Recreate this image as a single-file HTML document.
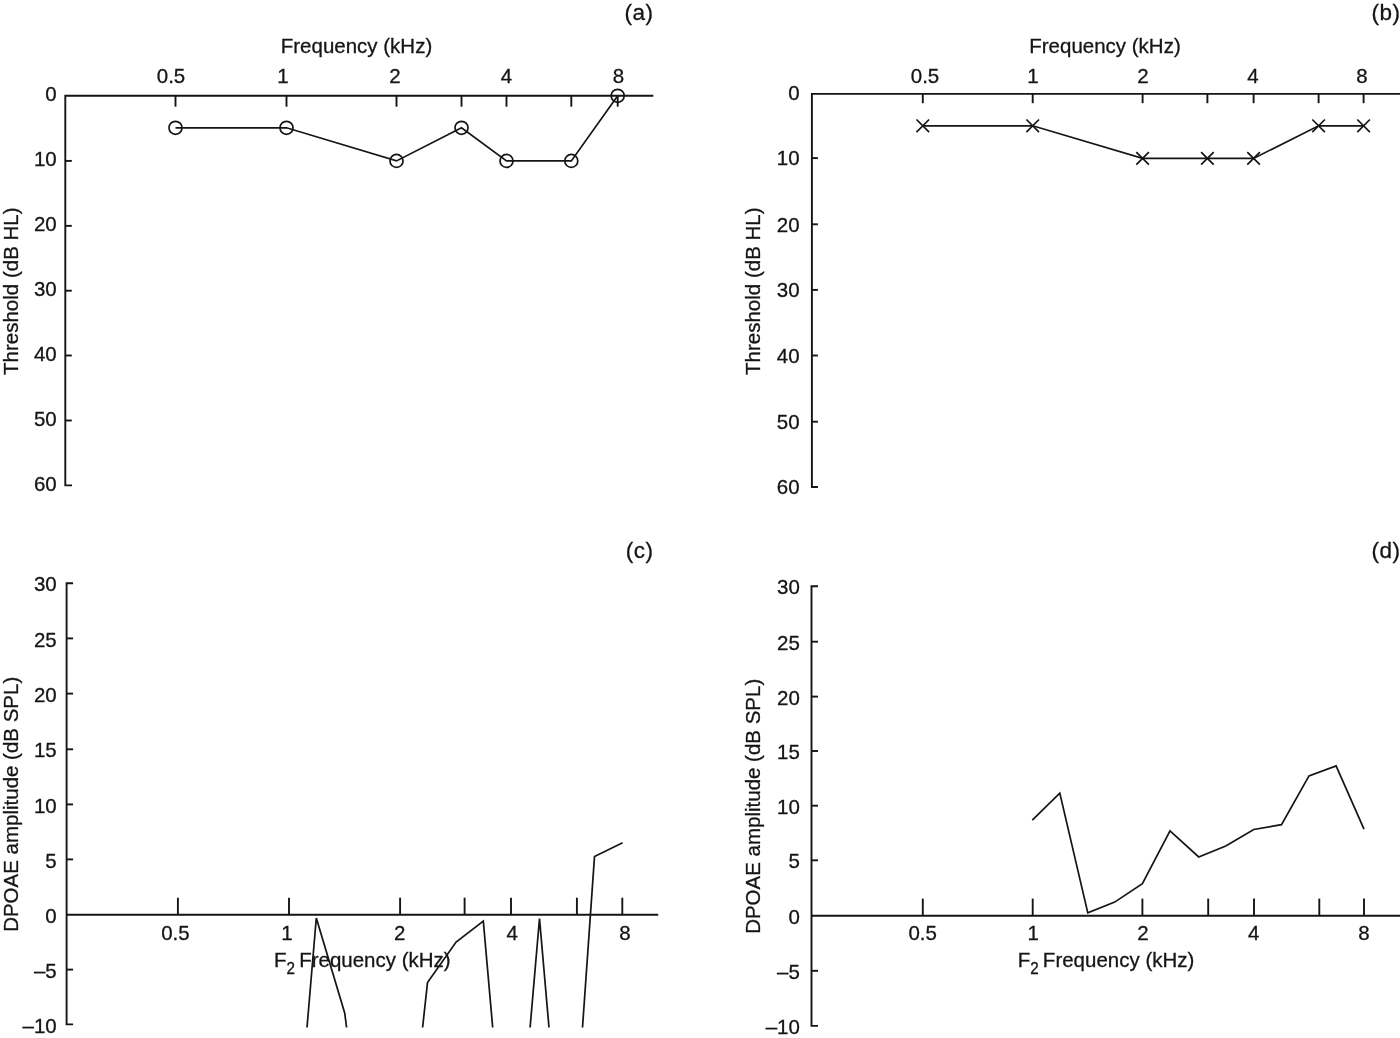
<!DOCTYPE html>
<html><head><meta charset="utf-8"><title>Figure</title>
<style>
html,body{margin:0;padding:0;background:#fff;}
svg{display:block;}
text{font-family:"Liberation Sans",sans-serif;fill:#151515;stroke:#151515;stroke-width:0.3px;}
.l{stroke:#151515;stroke-width:1.9;fill:none;stroke-linecap:butt;stroke-linejoin:miter;}
.e{stroke:#151515;stroke-width:1.7;fill:none;}
.d{stroke:#151515;stroke-width:1.72;fill:none;stroke-linecap:butt;stroke-linejoin:miter;}
</style></head><body>
<svg width="1400" height="1038" viewBox="0 0 1400 1038">
<rect width="1400" height="1038" fill="#fff"/>
<path class="l" d="M72.00 485.40 H65.30 V95.80 H653.30"/>
<path class="l" d="M175.50 95.80 v10.9"/>
<path class="l" d="M286.50 95.80 v10.9"/>
<path class="l" d="M396.50 95.80 v10.9"/>
<path class="l" d="M461.50 95.80 v10.9"/>
<path class="l" d="M506.50 95.80 v10.9"/>
<path class="l" d="M571.30 95.80 v10.9"/>
<path class="l" d="M617.70 95.80 v10.9"/>
<path class="l" d="M65.30 160.90 h6.5"/>
<path class="l" d="M65.30 225.85 h6.5"/>
<path class="l" d="M65.30 290.70 h6.5"/>
<path class="l" d="M65.30 355.50 h6.5"/>
<path class="l" d="M65.30 420.50 h6.5"/>
<text transform="translate(171.00 82.90) scale(1 1.025)" font-size="20.5" text-anchor="middle">0.5</text>
<text transform="translate(283.00 82.90) scale(1 1.025)" font-size="20.5" text-anchor="middle">1</text>
<text transform="translate(395.00 82.90) scale(1 1.025)" font-size="20.5" text-anchor="middle">2</text>
<text transform="translate(506.50 82.90) scale(1 1.025)" font-size="20.5" text-anchor="middle">4</text>
<text transform="translate(618.50 82.90) scale(1 1.025)" font-size="20.5" text-anchor="middle">8</text>
<text transform="translate(56.70 101.30) scale(1 1.025)" font-size="20.5" text-anchor="end">0</text>
<text transform="translate(56.70 166.40) scale(1 1.025)" font-size="20.5" text-anchor="end">10</text>
<text transform="translate(56.70 231.35) scale(1 1.025)" font-size="20.5" text-anchor="end">20</text>
<text transform="translate(56.70 296.20) scale(1 1.025)" font-size="20.5" text-anchor="end">30</text>
<text transform="translate(56.70 361.00) scale(1 1.025)" font-size="20.5" text-anchor="end">40</text>
<text transform="translate(56.70 426.00) scale(1 1.025)" font-size="20.5" text-anchor="end">50</text>
<text transform="translate(56.70 490.90) scale(1 1.025)" font-size="20.5" text-anchor="end">60</text>
<text transform="translate(356.50 52.60) scale(1 1.025)" font-size="20.5" text-anchor="middle">Frequency (kHz)</text>
<text transform="translate(653.40 19.90) scale(1 1)" font-size="22.5" text-anchor="end" letter-spacing="0.5">(a)</text>
<text transform="translate(18.00 291.20) rotate(-90) scale(1 1.025)" font-size="20.5" text-anchor="middle">Threshold (dB HL)</text>
<path class="e" d="M175.50 127.80 L286.50 127.80 L396.50 160.90 L461.50 127.80 L506.50 160.90 L571.30 160.90 L617.70 95.80"/>
<circle class="e" cx="175.50" cy="127.80" r="6.5"/>
<circle class="e" cx="286.50" cy="127.80" r="6.5"/>
<circle class="e" cx="396.50" cy="160.90" r="6.5"/>
<circle class="e" cx="461.50" cy="127.80" r="6.5"/>
<circle class="e" cx="506.50" cy="160.90" r="6.5"/>
<circle class="e" cx="571.30" cy="160.90" r="6.5"/>
<circle class="e" cx="617.70" cy="95.80" r="6.5"/>
<path class="l" d="M817.90 487.00 H811.90 V93.90 H1400"/>
<path class="l" d="M922.80 93.90 v9.3"/>
<path class="l" d="M1032.70 93.90 v9.3"/>
<path class="l" d="M1142.60 93.90 v9.3"/>
<path class="l" d="M1207.40 93.90 v9.3"/>
<path class="l" d="M1253.60 93.90 v9.3"/>
<path class="l" d="M1318.60 93.90 v9.3"/>
<path class="l" d="M1363.60 93.90 v9.3"/>
<path class="l" d="M811.90 158.10 h6"/>
<path class="l" d="M811.90 224.30 h6"/>
<path class="l" d="M811.90 289.90 h6"/>
<path class="l" d="M811.90 355.50 h6"/>
<path class="l" d="M811.90 421.70 h6"/>
<text transform="translate(925.00 82.90) scale(1 1.025)" font-size="20.5" text-anchor="middle">0.5</text>
<text transform="translate(1033.00 82.90) scale(1 1.025)" font-size="20.5" text-anchor="middle">1</text>
<text transform="translate(1143.00 82.90) scale(1 1.025)" font-size="20.5" text-anchor="middle">2</text>
<text transform="translate(1253.00 82.90) scale(1 1.025)" font-size="20.5" text-anchor="middle">4</text>
<text transform="translate(1362.00 82.90) scale(1 1.025)" font-size="20.5" text-anchor="middle">8</text>
<text transform="translate(799.60 100.40) scale(1 1.025)" font-size="20.5" text-anchor="end">0</text>
<text transform="translate(799.60 165.30) scale(1 1.025)" font-size="20.5" text-anchor="end">10</text>
<text transform="translate(799.60 231.50) scale(1 1.025)" font-size="20.5" text-anchor="end">20</text>
<text transform="translate(799.60 297.10) scale(1 1.025)" font-size="20.5" text-anchor="end">30</text>
<text transform="translate(799.60 362.70) scale(1 1.025)" font-size="20.5" text-anchor="end">40</text>
<text transform="translate(799.60 428.90) scale(1 1.025)" font-size="20.5" text-anchor="end">50</text>
<text transform="translate(799.60 494.20) scale(1 1.025)" font-size="20.5" text-anchor="end">60</text>
<text transform="translate(1105.00 52.60) scale(1 1.025)" font-size="20.5" text-anchor="middle">Frequency (kHz)</text>
<text transform="translate(1400.40 20.00) scale(1 1)" font-size="22.5" text-anchor="end" letter-spacing="0.5">(b)</text>
<text transform="translate(760.30 291.20) rotate(-90) scale(1 1.025)" font-size="20.5" text-anchor="middle">Threshold (dB HL)</text>
<path class="e" d="M922.80 125.80 L1032.70 125.80 L1142.60 158.40 L1207.40 158.40 L1253.60 158.40 L1318.60 125.80 L1363.60 125.80"/>
<path class="e" d="M916.50 119.50 l12.6 12.6 M916.50 132.10 l12.6 -12.6"/>
<path class="e" d="M1026.40 119.50 l12.6 12.6 M1026.40 132.10 l12.6 -12.6"/>
<path class="e" d="M1136.30 152.10 l12.6 12.6 M1136.30 164.70 l12.6 -12.6"/>
<path class="e" d="M1201.10 152.10 l12.6 12.6 M1201.10 164.70 l12.6 -12.6"/>
<path class="e" d="M1247.30 152.10 l12.6 12.6 M1247.30 164.70 l12.6 -12.6"/>
<path class="e" d="M1312.30 119.50 l12.6 12.6 M1312.30 132.10 l12.6 -12.6"/>
<path class="e" d="M1357.30 119.50 l12.6 12.6 M1357.30 132.10 l12.6 -12.6"/>
<path class="l" d="M73.10 583.30 H66.60 V1024.40 H73.10"/>
<path class="l" d="M66.60 914.70 H658.2"/>
<path class="l" d="M177.90 914.70 v-17"/>
<path class="l" d="M289.00 914.70 v-17"/>
<path class="l" d="M400.10 914.70 v-17"/>
<path class="l" d="M464.60 914.70 v-17"/>
<path class="l" d="M511.00 914.70 v-17"/>
<path class="l" d="M576.90 914.70 v-17"/>
<path class="l" d="M622.30 914.70 v-17"/>
<path class="l" d="M66.60 638.40 h6.5"/>
<path class="l" d="M66.60 693.60 h6.5"/>
<path class="l" d="M66.60 749.30 h6.5"/>
<path class="l" d="M66.60 804.40 h6.5"/>
<path class="l" d="M66.60 859.40 h6.5"/>
<path class="l" d="M66.60 969.60 h6.5"/>
<text transform="translate(175.40 939.70) scale(1 1.025)" font-size="20.5" text-anchor="middle">0.5</text>
<text transform="translate(287.00 939.70) scale(1 1.025)" font-size="20.5" text-anchor="middle">1</text>
<text transform="translate(399.80 939.70) scale(1 1.025)" font-size="20.5" text-anchor="middle">2</text>
<text transform="translate(512.10 939.70) scale(1 1.025)" font-size="20.5" text-anchor="middle">4</text>
<text transform="translate(625.00 939.70) scale(1 1.025)" font-size="20.5" text-anchor="middle">8</text>
<text transform="translate(56.70 591.40) scale(1 1.025)" font-size="20.5" text-anchor="end">30</text>
<text transform="translate(56.70 646.50) scale(1 1.025)" font-size="20.5" text-anchor="end">25</text>
<text transform="translate(56.70 701.70) scale(1 1.025)" font-size="20.5" text-anchor="end">20</text>
<text transform="translate(56.70 757.40) scale(1 1.025)" font-size="20.5" text-anchor="end">15</text>
<text transform="translate(56.70 812.50) scale(1 1.025)" font-size="20.5" text-anchor="end">10</text>
<text transform="translate(56.70 867.50) scale(1 1.025)" font-size="20.5" text-anchor="end">5</text>
<text transform="translate(56.70 922.60) scale(1 1.025)" font-size="20.5" text-anchor="end">0</text>
<text transform="translate(56.70 977.70) scale(1 1.025)" font-size="20.5" text-anchor="end">–5</text>
<text transform="translate(56.70 1032.50) scale(1 1.025)" font-size="20.5" text-anchor="end">–10</text>
<text transform="translate(274.00 966.90) scale(1 1.025)" font-size="20.5">F<tspan font-size="15.2" dy="6.9">2</tspan><tspan dy="-6.9" dx="-1.5"> Frequency (kHz)</tspan></text>
<text transform="translate(653.40 558.30) scale(1 1)" font-size="22.5" text-anchor="end" letter-spacing="0.5">(c)</text>
<text transform="translate(18.00 804.30) rotate(-90) scale(1 1.025)" font-size="20.5" text-anchor="middle">DPOAE amplitude (dB SPL)</text>
<path class="d" d="M307 1027.5 L316.3 918 L344.75 1013.3 L346.6 1027.5"/>
<path class="d" d="M422.6 1027.5 L427.5 982.6 L456.1 942 L483.3 921.1 L492.7 1027.5"/>
<path class="d" d="M530.1 1027.5 L539.5 918.5 L549 1027.5"/>
<path class="d" d="M582.5 1027.5 L594.5 856.6 L622.6 842.8"/>
<path class="l" d="M818.00 586.30 H811.50 V1025.90 H818.00"/>
<path class="l" d="M811.50 915.80 H1400"/>
<path class="l" d="M922.80 915.80 v-17.2"/>
<path class="l" d="M1032.70 915.80 v-17.2"/>
<path class="l" d="M1142.40 915.80 v-17.2"/>
<path class="l" d="M1208.20 915.80 v-17.2"/>
<path class="l" d="M1254.00 915.80 v-17.2"/>
<path class="l" d="M1319.30 915.80 v-17.2"/>
<path class="l" d="M1364.00 915.80 v-17.2"/>
<path class="l" d="M811.50 641.70 h6.5"/>
<path class="l" d="M811.50 696.60 h6.5"/>
<path class="l" d="M811.50 751.00 h6.5"/>
<path class="l" d="M811.50 805.70 h6.5"/>
<path class="l" d="M811.50 860.30 h6.5"/>
<path class="l" d="M811.50 970.80 h6.5"/>
<text transform="translate(922.70 939.80) scale(1 1.025)" font-size="20.5" text-anchor="middle">0.5</text>
<text transform="translate(1033.20 939.80) scale(1 1.025)" font-size="20.5" text-anchor="middle">1</text>
<text transform="translate(1143.00 939.80) scale(1 1.025)" font-size="20.5" text-anchor="middle">2</text>
<text transform="translate(1253.70 939.80) scale(1 1.025)" font-size="20.5" text-anchor="middle">4</text>
<text transform="translate(1363.90 939.80) scale(1 1.025)" font-size="20.5" text-anchor="middle">8</text>
<text transform="translate(799.90 594.30) scale(1 1.025)" font-size="20.5" text-anchor="end">30</text>
<text transform="translate(799.90 649.70) scale(1 1.025)" font-size="20.5" text-anchor="end">25</text>
<text transform="translate(799.90 704.60) scale(1 1.025)" font-size="20.5" text-anchor="end">20</text>
<text transform="translate(799.90 759.00) scale(1 1.025)" font-size="20.5" text-anchor="end">15</text>
<text transform="translate(799.90 813.70) scale(1 1.025)" font-size="20.5" text-anchor="end">10</text>
<text transform="translate(799.90 868.30) scale(1 1.025)" font-size="20.5" text-anchor="end">5</text>
<text transform="translate(799.90 923.80) scale(1 1.025)" font-size="20.5" text-anchor="end">0</text>
<text transform="translate(799.90 978.80) scale(1 1.025)" font-size="20.5" text-anchor="end">–5</text>
<text transform="translate(799.90 1033.90) scale(1 1.025)" font-size="20.5" text-anchor="end">–10</text>
<text transform="translate(1017.70 966.90) scale(1 1.025)" font-size="20.5">F<tspan font-size="15.2" dy="6.9">2</tspan><tspan dy="-6.9" dx="-1.5"> Frequency (kHz)</tspan></text>
<text transform="translate(1400.40 558.30) scale(1 1)" font-size="22.5" text-anchor="end" letter-spacing="0.5">(d)</text>
<text transform="translate(760.20 806.30) rotate(-90) scale(1 1.025)" font-size="20.5" text-anchor="middle">DPOAE amplitude (dB SPL)</text>
<path class="d" d="M1032.30 820.10 L1059.80 793.10 L1087.80 912.90 L1114.70 902.10 L1142.40 883.60 L1170.00 830.80 L1198.70 857.00 L1225.75 846.00 L1253.75 829.50 L1281.50 824.60 L1309.00 775.90 L1336.10 765.90 L1364.00 829.10"/>
</svg>
</body></html>
